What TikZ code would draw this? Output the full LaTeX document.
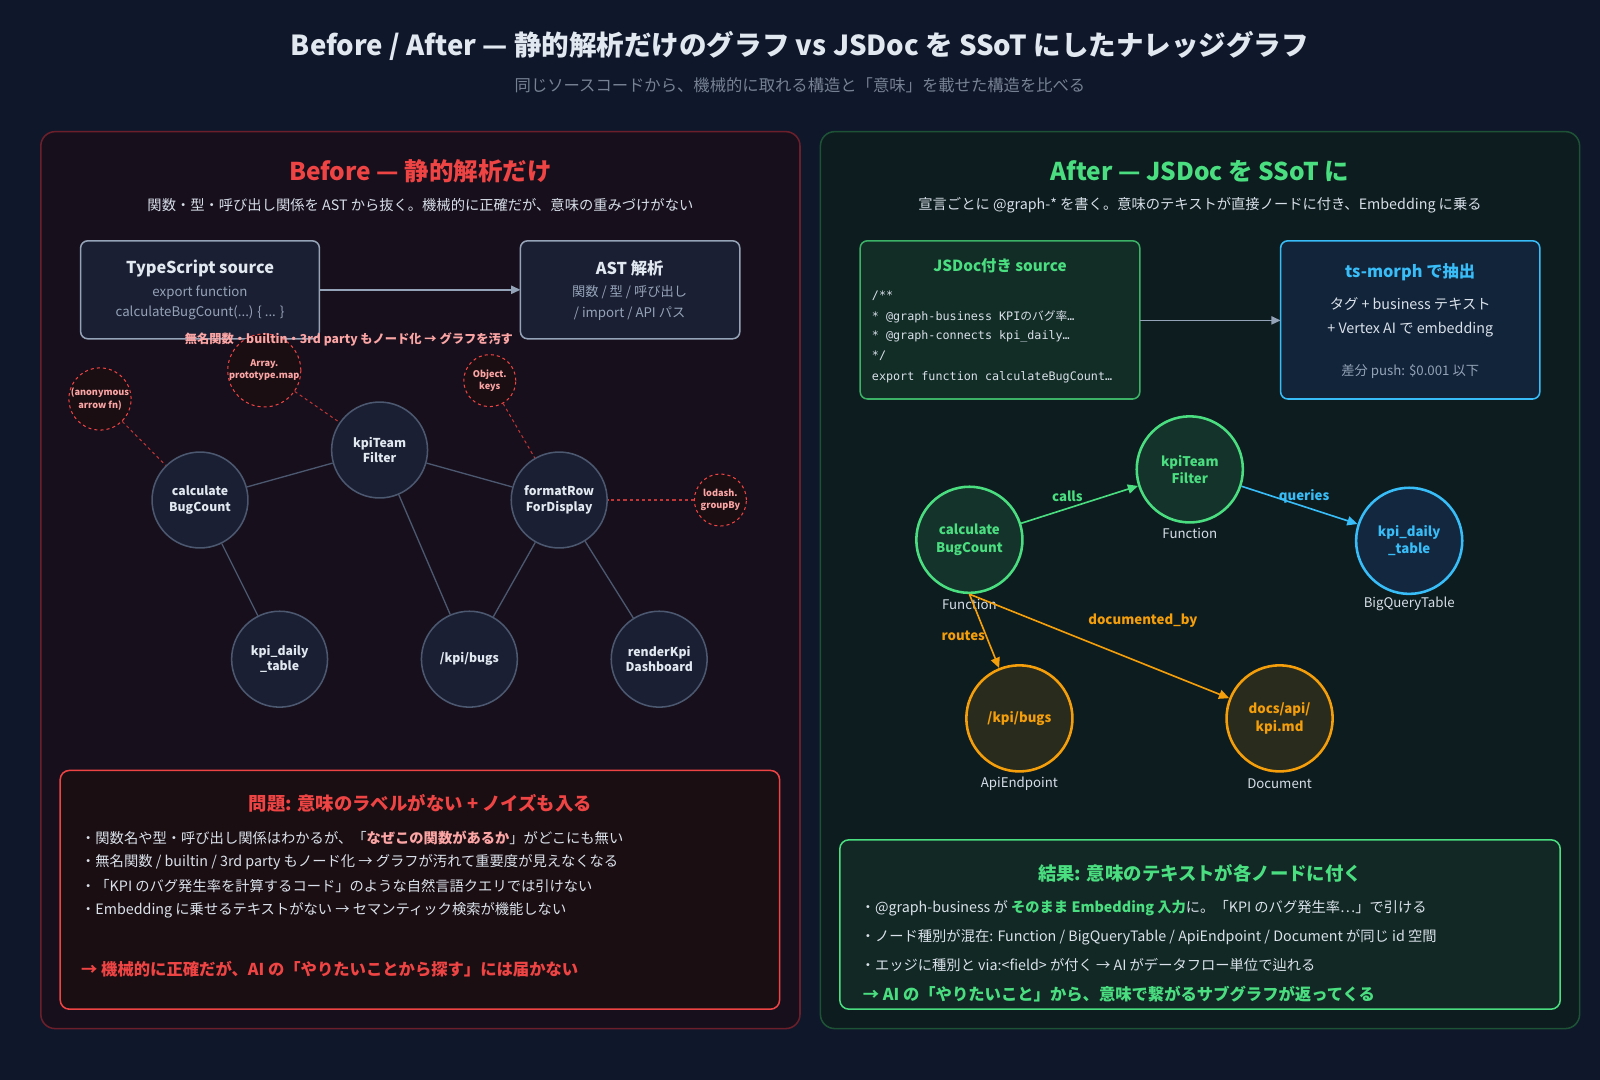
\documentclass[tikz,border=0pt]{standalone}
\usepackage{fontspec}
\setmainfont{Noto Sans CJK JP}
\newfontfamily\cjk{Noto Sans CJK JP}
\newfontfamily\codef{DejaVu Sans Mono}
\usetikzlibrary{arrows.meta}
\definecolor{bg}{HTML}{0F172A}
\definecolor{lpanel}{HTML}{170F1C}
\definecolor{lborder}{HTML}{6B1F2A}
\definecolor{rpanel}{HTML}{0D1C1E}
\definecolor{rborder}{HTML}{1E5236}
\definecolor{nfill}{HTML}{1B1F33}
\definecolor{nborder}{HTML}{4B5870}
\definecolor{txt}{HTML}{E2E8F0}
\definecolor{sub}{HTML}{94A3B8}
\definecolor{redc}{HTML}{EF4444}
\definecolor{lred}{HTML}{FCA5A5}
\definecolor{grn}{HTML}{4ADE80}
\definecolor{org}{HTML}{F59E0B}
\definecolor{blu}{HTML}{38BDF8}
\definecolor{arr}{HTML}{94A3B8}
\definecolor{pbox}{HTML}{1A0E12}
\tikzset{
 box/.style={draw=sub,line width=1.5pt,fill=nfill,rounded corners=7pt},
 gnode/.style={circle,draw=nborder,line width=1.5pt,fill=nfill,minimum size=94pt,inner sep=0pt,align=center,text=txt,font=\fontsize{12}{15}\selectfont\bfseries},
 noise/.style={circle,draw=redc,dashed,line width=1pt,fill=pbox,minimum size=#1,inner sep=0pt,align=center,text=lred,font=\fontsize{9}{12}\selectfont\bfseries},
 edge/.style={draw=nborder,line width=1.3pt},
 nedge/.style={draw=redc!80!black,dashed,line width=1pt},
 knode/.style={circle,line width=2.5pt,minimum size=104pt,inner sep=0pt,align=center,font=\fontsize{13}{17}\selectfont\bfseries},
 kl/.style={text=txt!85!sub,font=\fontsize{13}{15}\selectfont},
 el/.style={font=\fontsize{13}{15}\selectfont\bfseries},
 ka/.style={line width=1.6pt,-{Triangle[length=10pt,width=9pt]}},
 bul/.style={anchor=west,text=txt!90!sub,font=\fontsize{14}{17}\selectfont},
}
\begin{document}
\begin{tikzpicture}[x=1pt,y=-1pt]
\fill[bg] (0,0) rectangle (1568,1058);
\node[text=txt,font=\fontsize{27}{32}\selectfont\bfseries] (title) at (784,45) {Before / After — 静的解析だけのグラフ vs JSDoc を SSoT にしたナレッジグラフ};
\node[text=sub!80!black,font=\fontsize{16}{20}\selectfont] (subt) at (784,84) {同じソースコードから、機械的に取れる構造と「意味」を載せた構造を比べる};
% panels
\draw[fill=lpanel,draw=lborder,line width=1.5pt,rounded corners=14pt] (40,129) rectangle (784,1008);
\draw[fill=rpanel,draw=rborder,line width=1.5pt,rounded corners=14pt] (804,129) rectangle (1548,1008);
% LEFT
\node[text=redc,font=\fontsize{24}{28}\selectfont\bfseries] (lh) at (412,168) {Before — 静的解析だけ};
\node[text=txt!85!sub,font=\fontsize{14}{17}\selectfont] (ls) at (412,201) {関数・型・呼び出し関係を AST から抜く。機械的に正確だが、意味の重みづけがない};
\draw[box] (79,236) rectangle (313,332);
\node[text=txt,font=\fontsize{16}{20}\selectfont\bfseries] (ts) at (196,263) {TypeScript source};
\node[text=sub,align=center,font=\fontsize{13}{20}\selectfont] (tsb) at (196,297) {export function\\calculateBugCount(...) \{ ... \}};
\draw[box] (510,236) rectangle (725,332);
\node[text=txt,font=\fontsize{16}{20}\selectfont\bfseries] (ast) at (617,263) {AST 解析};
\node[text=sub,align=center,font=\fontsize{13}{20}\selectfont] (astb) at (617,297) {関数 / 型 / 呼び出し\\/ import / API パス};
\coordinate (a1) at (313,284); \coordinate (a2) at (510,284);
\draw[arr,line width=1.5pt,-{Triangle[length=9pt,width=8pt]}] (a1) -- (a2);
\node[gnode] (c) at (196,490) {calculate\\BugCount};
\node[gnode] (k) at (372,441) {kpiTeam\\Filter};
\node[gnode] (f) at (548,490) {formatRow\\ForDisplay};
\node[gnode] (d) at (274,646) {kpi\_daily\\\_table};
\node[gnode] (b) at (460,646) {/kpi/bugs};
\node[gnode] (r) at (646,646) {renderKpi\\Dashboard};
\node[noise=57pt] (n1) at (98,391) {(anonymous\\arrow fn)};
\node[noise=51pt] (n2) at (259,363) {Array.\\prototype.map};
\node[noise=51pt] (n3) at (480,373) {Object.\\keys};
\node[noise=51pt] (n4) at (706,490) {lodash.\\groupBy};
\draw[edge] (c) -- (k); \draw[edge] (k) -- (f); \draw[edge] (c) -- (d);
\draw[edge] (k) -- (b); \draw[edge] (f) -- (b); \draw[edge] (f) -- (r);
\draw[nedge] (n1) -- (c); \draw[nedge] (n2) -- (k); \draw[nedge] (n3) -- (f); \draw[nedge] (n4) -- (f);
\node[text=lred,font=\fontsize{12}{15}\selectfont\bfseries] (noiselbl) at (342,333) {無名関数・builtin・3rd party もノード化 → グラフを汚す};
\draw[fill=pbox,draw=redc,line width=1.5pt,rounded corners=9pt] (59,755) rectangle (764,989);
\node[text=redc,font=\fontsize{18}{22}\selectfont\bfseries] (ph) at (412,787) {問題: 意味のラベルがない + ノイズも入る};
\node[bul] (p1) at (76,821) {・関数名や型・呼び出し関係はわかるが、「\textcolor{lred}{\bfseries なぜこの関数があるか}」がどこにも無い};
\node[bul] (p2) at (76,845) {・無名関数 / builtin / 3rd party もノード化 → グラフが汚れて重要度が見えなくなる};
\node[bul] (p3) at (76,868) {・「KPI のバグ発生率を計算するコード」のような自然言語クエリでは引けない};
\node[bul] (p4) at (76,892) {・Embedding に乗せるテキストがない → セマンティック検索が機能しない};
\node[anchor=west,text=redc,font=\fontsize{16}{20}\selectfont\bfseries] (pf) at (76,950) {→ 機械的に正確だが、AI の「やりたいことから探す」には届かない};
% RIGHT
\node[text=grn,font=\fontsize{24}{28}\selectfont\bfseries] (rh) at (1176,168) {After — JSDoc を SSoT に};
\node[text=txt!85!sub,font=\fontsize{14}{17}\selectfont] (rs) at (1176,201) {宣言ごとに @graph-* を書く。意味のテキストが直接ノードに付き、Embedding に乗る};
\draw[fill=grn!8!rpanel,draw=grn!80!black,line width=1.5pt,rounded corners=7pt] (843,236) rectangle (1117,391);
\node[text=grn,font=\fontsize{15}{18}\selectfont\bfseries] (jh) at (980,260) {JSDoc付き source};
\begin{scope}[every node/.style={anchor=west,text=txt!90!sub,font=\fontsize{11.5}{14}\selectfont\codef}]
\node (j1) at (851,290) {/**};
\node (j2) at (851,310) {* @graph-business KPI{\cjk のバグ率}…};
\node (j3) at (851,330) {* @graph-connects kpi\_daily…};
\node (j4) at (851,349) {*/};
\node (j5) at (851,370) {export function calculateBugCount…};
\end{scope}
\draw[fill=blu!8!bg,draw=blu,line width=1.5pt,rounded corners=7pt] (1255,236) rectangle (1509,391);
\node[text=blu,font=\fontsize{16}{20}\selectfont\bfseries] (th) at (1382,267) {ts-morph で抽出};
\node[text=txt!90!sub,align=center,font=\fontsize{14}{23}\selectfont] (tb) at (1382,311) {タグ + business テキスト\\+ Vertex AI で embedding};
\node[text=sub,font=\fontsize{13}{16}\selectfont] (tp) at (1382,364) {差分 push: \$0.001 以下};
\coordinate (b1) at (1117,314); \coordinate (b2) at (1255,314);
\draw[arr,line width=1.5pt,-{Triangle[length=9pt,width=8pt]}] (b1) -- (b2);
\node[knode,draw=grn,fill=grn!12!rpanel,text=grn] (K1) at (950,529) {calculate\\BugCount};
\node[knode,draw=grn,fill=grn!12!rpanel,text=grn] (K2) at (1166,460) {kpiTeam\\Filter};
\node[knode,draw=blu,fill=blu!10!bg,text=blu] (K3) at (1381,530) {kpi\_daily\\\_table};
\node[knode,draw=org,fill=org!12!rpanel,text=org] (K4) at (999,704) {/kpi/bugs};
\node[knode,draw=org,fill=org!12!rpanel,text=org] (K5) at (1254,704) {docs/api/\\kpi.md};
\node[kl] (l1) at (950,592) {Function};
\node[kl] (l2) at (1166,523) {Function};
\node[kl] (l3) at (1381,592) {BigQueryTable};
\node[kl] (l4) at (999,768) {ApiEndpoint};
\node[kl] (l5) at (1254,768) {Document};
\draw[ka,draw=grn] (K1) -- (K2);
\draw[ka,draw=blu] (K2) -- (K3);
\draw[ka,draw=org] (K1.south) -- (K4);
\draw[ka,draw=org] (K1.south) -- (K5);
\node[el,text=grn] (e1) at (1046,486) {calls};
\node[el,text=blu] (e2) at (1278,486) {queries};
\node[el,text=org] (e3) at (944,623) {routes};
\node[el,text=org] (e4) at (1120,608) {documented\_by};
\draw[fill=grn!6!rpanel,draw=grn,line width=1.5pt,rounded corners=9pt] (823,823) rectangle (1529,989);
\node[text=grn,font=\fontsize{18}{22}\selectfont\bfseries] (rrh) at (1176,856) {結果: 意味のテキストが各ノードに付く};
\node[bul] (q1) at (840,890) {・@graph-business が \textcolor{grn}{\bfseries そのまま Embedding 入力}に。「KPI のバグ発生率…」で引ける};
\node[bul] (q2) at (840,918) {・ノード種別が混在: Function / BigQueryTable / ApiEndpoint / Document が同じ id 空間};
\node[bul] (q3) at (840,946) {・エッジに種別と via:<field> が付く → AI がデータフロー単位で辿れる};
\node[anchor=west,text=grn,font=\fontsize{16}{20}\selectfont\bfseries] (qf) at (842,974) {→ AI の「やりたいこと」から、意味で繋がるサブグラフが返ってくる};
\pgfresetboundingbox
\path[use as bounding box] (0,0) rectangle (1568,1058);
\end{tikzpicture}
\end{document}
